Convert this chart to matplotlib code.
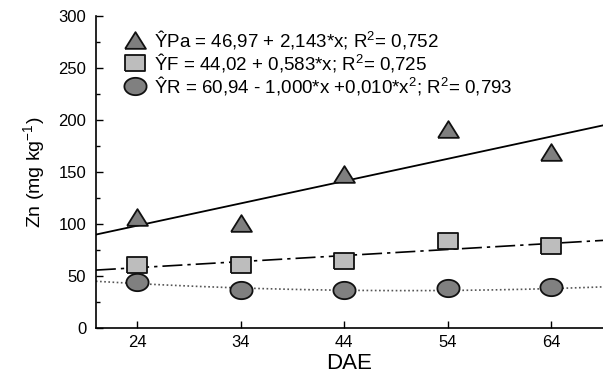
import numpy as np
import matplotlib
matplotlib.use("Agg")
import matplotlib.pyplot as plt

plt.rcParams['font.family'] = ['Liberation Sans', 'DejaVu Sans']
plt.rcParams['mathtext.fontset'] = 'custom'
plt.rcParams['mathtext.rm'] = 'Liberation Sans'
plt.rcParams['mathtext.it'] = 'Liberation Sans'

# Data
dae = [24, 34, 44, 54, 64]
zn_pa = [107, 101, 148, 191, 169]
zn_f = [61, 61, 64, 84, 79]
zn_r = [44, 37, 37, 38, 39]

# Regression coefficients
pa_coef = (46.97, 2.143)
f_coef = (44.02, 0.583)
r_coef = (60.94, -1.000, 0.010)

legend_labels = [
    "ŶPa = 46,97 + 2,143*x; R$^2$= 0,752",
    "ŶF = 44,02 + 0,583*x; R$^2$= 0,725",
    "ŶR = 60,94 - 1,000*x +0,010*x$^2$; R$^2$= 0,793",
]
xticks = [24, 34, 44, 54, 64]
yticks = [0, 50, 100, 150, 200, 250, 300]

# wide marker shapes (the original picture is stretched horizontally)
tri = [(-1, -0.8), (1, -0.8), (0, 0.8), (-1, -0.8)]
sq = [(-1, -0.75), (1, -0.75), (1, 0.75), (-1, 0.75), (-1, -0.75)]
t = np.linspace(0, 2 * np.pi, 60)
ell = list(zip(np.cos(t), 0.78 * np.sin(t)))

fig = plt.figure(figsize=(6.03, 3.83), dpi=100)
ax = fig.add_axes([0.159, 0.1436, 0.841, 0.8146])

xs = np.linspace(20, 69, 200)
ax.plot(xs, pa_coef[0] + pa_coef[1] * xs, color='black', lw=1.3, zorder=2)
ax.plot(xs, f_coef[0] + f_coef[1] * xs, color='black', lw=1.2,
        dashes=(12, 3, 2, 3), zorder=2)
ax.plot(xs, r_coef[0] + r_coef[1] * xs + r_coef[2] * xs**2, color='#555555',
        lw=1.2, ls=(0, (1, 1.5)), zorder=2)

ms_kw = dict(markeredgecolor='#111111', markeredgewidth=1.3, ls='none', zorder=3)
h1, = ax.plot(dae, zn_pa, marker=tri, ms=15, markerfacecolor='#7f7f7f', **ms_kw)
h2, = ax.plot(dae, zn_f, marker=sq, ms=14.5, markerfacecolor='#bdbdbd', **ms_kw)
h3, = ax.plot(dae, zn_r, marker=ell, ms=16, markerfacecolor='#808080', **ms_kw)

leg = ax.legend([h1, h2, h3], legend_labels, loc='upper left',
                bbox_to_anchor=(0.035, 1.0), frameon=False, fontsize=13.5,
                handlelength=1.0, handletextpad=0.5, labelspacing=0.0,
                borderaxespad=0.25)

ax.set_xlim(20, 69)
ax.set_ylim(0, 300)
ax.set_xticks(xticks)
ax.set_yticks(yticks)
ax.set_yticks(np.arange(25, 300, 50), minor=True)
ax.tick_params(direction='in', labelsize=12, length=5, width=1)
ax.tick_params(axis='y', pad=7)
ax.tick_params(axis='x', pad=5)
ax.tick_params(which='minor', direction='in', length=3, width=1)
for s in ['top', 'right']:
    ax.spines[s].set_visible(False)
for s in ['left', 'bottom']:
    ax.spines[s].set_linewidth(1.2)

ax.set_xlabel('DAE', fontsize=16, labelpad=2)
ax.set_ylabel('Zn (mg kg$^{-1}$)', fontsize=14, labelpad=8)

fig.savefig('out.png', dpi=100)
